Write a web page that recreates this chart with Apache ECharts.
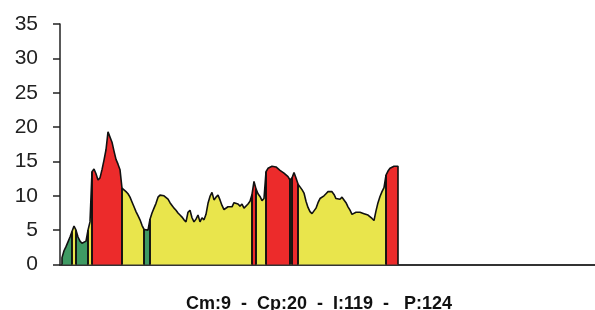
<!DOCTYPE html>
<html>
<head>
<meta charset="utf-8">
<script src="https://cdn.jsdelivr.net/npm/echarts@6/dist/echarts.min.js"></script>
<style>
  html, body { margin: 0; padding: 0; background: #fff; }
  #chart { width: 595px; height: 310px; }
</style>
</head>
<body>
<div id="chart"></div>
<script>
// height read every 2px along the x axis (index = sample number)
var profile = [
  0, 1.0, 2.0, 2.6, 3.3, 4.0, 4.8, 5.6, 5.0, 4.0,
  3.4, 3.1, 3.1, 3.4, 5.0, 6.2, 13.5, 13.9, 13.2, 12.3,
  12.6, 13.8, 15.2, 16.7, 19.3, 19.2, 17.8, 16.5, 15.3, 14.6,
  13.8, 11.1, 10.9, 10.6, 10.3, 9.8, 9.1, 8.4, 7.7, 7.1,
  6.5, 5.7, 5.1, 4.9, 5.0, 6.6, 7.5, 8.2, 8.9, 9.8,
  10.1, 10.1, 10.0, 9.8, 9.5, 9.0, 8.6, 8.2, 7.9, 7.5,
  7.2, 6.9, 6.5, 6.2, 7.6, 7.9, 6.8, 6.2, 6.6, 7.2,
  6.2, 6.8, 6.5, 7.3, 8.9, 9.9, 10.5, 9.4, 9.8, 10.1,
  9.4, 8.6, 8.0, 8.2, 8.4, 8.2, 8.4, 9.0, 9.1, 8.8,
  8.5, 8.8, 8.2, 8.4, 8.8, 9.2, 10.2, 12.1, 11.0, 10.3,
  9.9, 9.3, 9.6, 13.5, 14.0, 14.2, 14.3, 14.3, 14.2, 14.0,
  13.7, 13.5, 13.3, 13.1, 12.8, 12.3, 12.6, 13.4, 12.6, 11.7,
  11.3, 10.9, 10.4, 9.2, 8.3, 7.7, 7.4, 7.3, 8.2, 9.0,
  9.6, 9.8, 10.0, 10.3, 10.6, 10.8, 10.6, 10.2, 9.6, 9.4,
  9.5, 9.8, 9.8, 9.0, 8.4, 7.9, 7.3, 7.1, 7.6, 7.7,
  7.6, 7.5, 7.4, 7.5, 7.2, 7.0, 6.7, 6.4, 7.8, 9.0,
  9.9, 10.6, 11.2, 13.0, 13.6, 14.0, 14.1, 14.3, 14.3, 14.3
];

// coloured stretches: [first sample, last sample, zone]
var segments = [
  [1, 6, "g"], [6, 8, "y"], [8, 14, "g"], [14, 16, "y"],
  [16, 31, "r"], [31, 42, "y"], [42, 45, "g"], [45, 96, "y"],
  [96, 98, "r"], [98, 103, "y"], [103, 115, "r"], [115, 116, "y"],
  [116, 119, "r"], [119, 163, "y"], [163, 169, "r"]
];

var yTicks = [0, 5, 10, 15, 20, 25, 30, 35];
var titleText = "Cm:9  -  Cp:20  -  I:119  -   P:124";

var zoneColors = { g: "#3f9a63", y: "#e9e54c", r: "#ec2b2b" };

var series = segments.map(function (s) {
  var pts = [[s[0], 0]];
  for (var k = s[0]; k <= s[1]; k++) {
    pts.push([k, profile[k]]);
  }
  pts.push([s[1], 0]);
  return {
    type: "line",
    data: pts,
    showSymbol: false,
    smooth: false,
    animation: false,
    lineStyle: { color: "#111", width: 1.6 },
    areaStyle: { color: zoneColors[s[2]], opacity: 1 }
  };
});

var chart = echarts.init(document.getElementById("chart"));
chart.setOption({
  backgroundColor: "#fff",
  title: {
    text: titleText,
    left: 181,
    top: 290,
    textStyle: {
      fontFamily: "Liberation Sans",
      fontWeight: "bold",
      fontSize: 18,
      color: "#111"
    }
  },
  grid: { left: 60, right: 0, top: 24, bottom: 45.5 },
  xAxis: {
    type: "value",
    min: 0,
    max: 267.5,
    axisLine: { show: true, lineStyle: { color: "#333", width: 2 } },
    axisTick: { show: false },
    axisLabel: { show: false },
    splitLine: { show: false }
  },
  yAxis: {
    type: "value",
    min: yTicks[0],
    max: yTicks[yTicks.length - 1],
    interval: 5,
    axisLine: { show: true, lineStyle: { color: "#222", width: 1.5 } },
    axisTick: { show: true, length: 7, lineStyle: { color: "#222", width: 1.5 } },
    axisLabel: {
      margin: 22,
      fontFamily: "Liberation Sans",
      fontSize: 21,
      color: "#222"
    },
    splitLine: { show: false }
  },
  series: series
});
</script>
</body>
</html>
